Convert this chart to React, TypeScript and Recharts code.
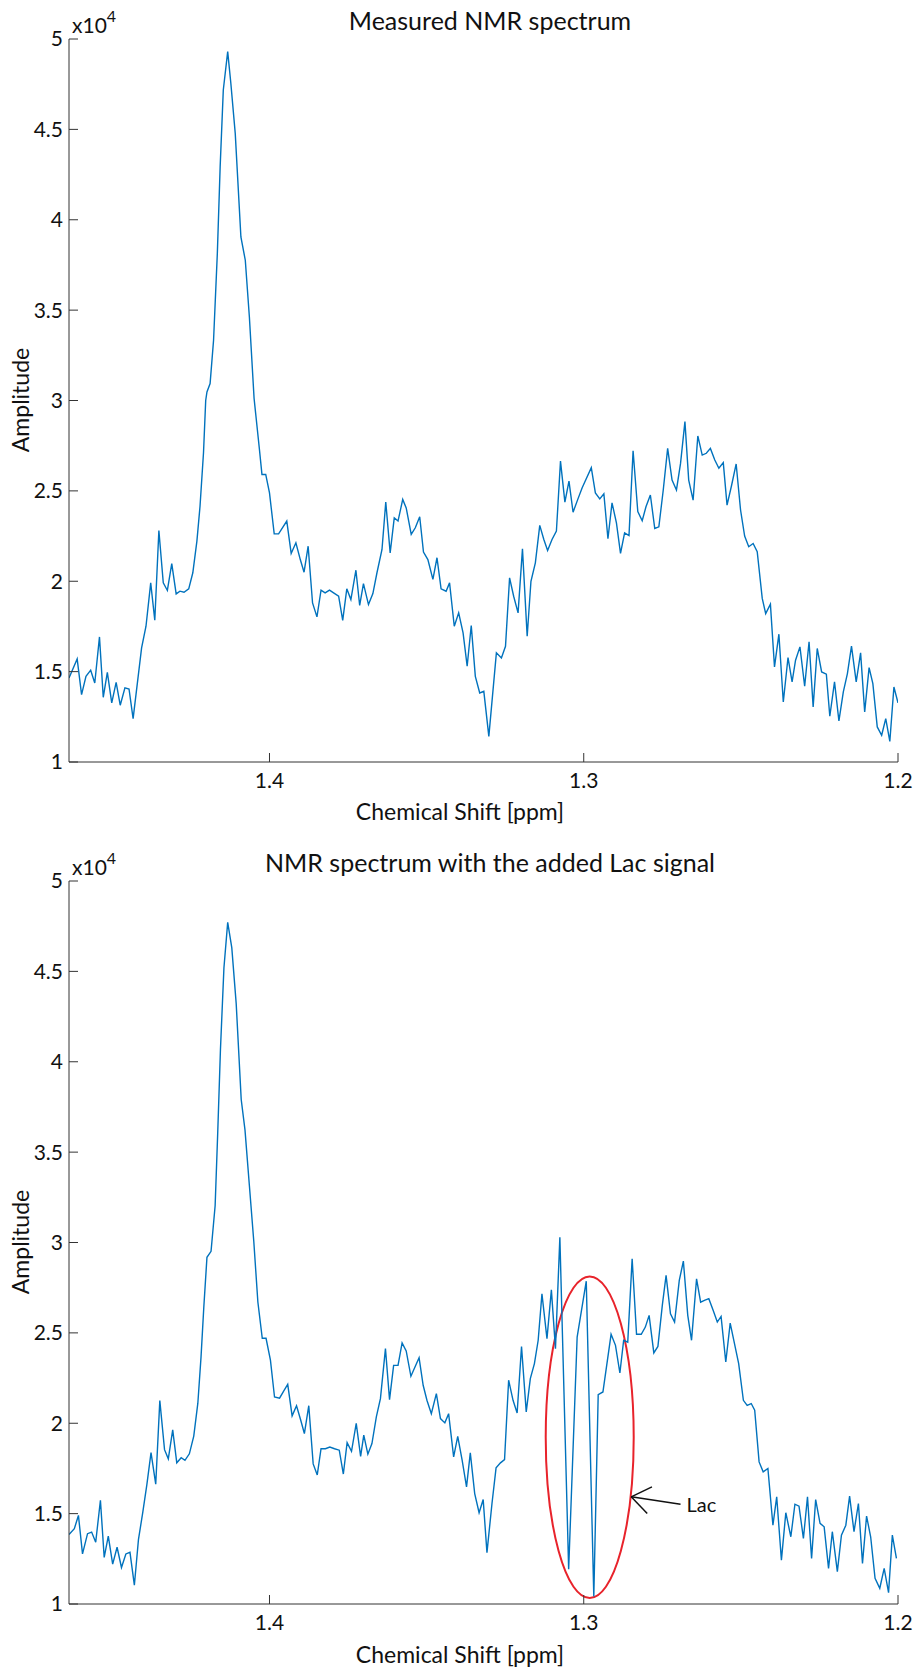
import React from 'react';
import {
    LineChart, Line, XAxis, YAxis, ReferenceArea, ReferenceLine, ReferenceDot,
} from 'recharts';

// chemical shift [ppm] and amplitude, measured spectrum
const topPpm = [
    1.4638, 1.4612, 1.4598, 1.4584, 1.4569, 1.4556, 1.4541, 1.4529, 1.4516, 1.4502,
    1.4488, 1.4475, 1.4460, 1.4447, 1.4434, 1.4407, 1.4393, 1.4378, 1.4365, 1.4352,
    1.4338, 1.4325, 1.4311, 1.4297, 1.4285, 1.4272, 1.4257, 1.4244, 1.4231, 1.4221,
    1.4210, 1.4203, 1.4199, 1.4189, 1.4178, 1.4166, 1.4157, 1.4147, 1.4133, 1.4123,
    1.4109, 1.4091, 1.4077, 1.4064, 1.4049, 1.4032, 1.4024, 1.4012, 1.4000, 1.3985,
    1.3971, 1.3945, 1.3931, 1.3916, 1.3902, 1.3890, 1.3877, 1.3863, 1.3849, 1.3836,
    1.3823, 1.3809, 1.3796, 1.3780, 1.3767, 1.3754, 1.3741, 1.3725, 1.3713, 1.3701,
    1.3685, 1.3671, 1.3658, 1.3642, 1.3630, 1.3616, 1.3603, 1.3591, 1.3576, 1.3565,
    1.3549, 1.3536, 1.3522, 1.3510, 1.3496, 1.3480, 1.3467, 1.3454, 1.3438, 1.3427,
    1.3412, 1.3398, 1.3384, 1.3371, 1.3358, 1.3345, 1.3331, 1.3318, 1.3302, 1.3278,
    1.3262, 1.3249, 1.3236, 1.3223, 1.3209, 1.3195, 1.3180, 1.3168, 1.3154, 1.3140,
    1.3127, 1.3115, 1.3101, 1.3087, 1.3074, 1.3060, 1.3047, 1.3034, 1.3019, 1.3005,
    1.2976, 1.2963, 1.2949, 1.2936, 1.2923, 1.2910, 1.2896, 1.2883, 1.2870, 1.2856,
    1.2843, 1.2828, 1.2814, 1.2802, 1.2788, 1.2774, 1.2761, 1.2747, 1.2733, 1.2719,
    1.2705, 1.2692, 1.2678, 1.2666, 1.2652, 1.2637, 1.2623, 1.2610, 1.2597, 1.2583,
    1.2570, 1.2556, 1.2544, 1.2530, 1.2515, 1.2501, 1.2488, 1.2475, 1.2461, 1.2448,
    1.2432, 1.2421, 1.2406, 1.2393, 1.2379, 1.2365, 1.2350, 1.2337, 1.2326, 1.2312,
    1.2297, 1.2283, 1.2270, 1.2257, 1.2243, 1.2228, 1.2217, 1.2202, 1.2188, 1.2174,
    1.2161, 1.2148, 1.2133, 1.2119, 1.2106, 1.2092, 1.2080, 1.2066, 1.2052, 1.2039,
    1.2026, 1.2013, 1.2000,
];
const topAmp = [
    14650, 15700, 13730, 14740, 15080, 14370, 16920, 13580, 14960, 13270,
    14410, 13140, 14100, 14040, 12400, 16310, 17510, 19910, 17840, 22810,
    19910, 19490, 20980, 19300, 19450, 19390, 19580, 20470, 22220, 24160,
    27110, 30000, 30470, 30940, 33330, 38130, 42930, 47180, 49300, 47550,
    44780, 39050, 37760, 34620, 30110, 27290, 25910, 25910, 24890, 22620,
    22620, 23330, 21540, 22130, 21200, 20500, 21940, 18800, 18030, 19510,
    19360, 19510, 19360, 19170, 17840, 19580, 18990, 20610, 18660, 19870,
    18710, 19320, 20470, 21760, 24380, 21570, 23510, 23330, 24530, 24060,
    22590, 22960, 23570, 21610, 21200, 20100, 21300, 19580, 19450, 19910,
    17510, 18250, 17140, 15300, 17550, 14740, 13820, 13910, 11420, 16040,
    15760, 16400, 20190, 19170, 18250, 21790, 16960, 20000, 21020, 23090,
    22310, 21700, 22310, 22770, 26650, 24380, 25540, 23820, 24530, 25170,
    26280, 24890, 24560, 24840, 22350, 24340, 23230, 21540, 22680, 22530,
    27220, 23850, 23350, 24120, 24770, 22920, 23010, 25050, 27350, 25600,
    25050, 26520, 28830, 25600, 24490, 28040, 26980, 27080, 27350, 26710,
    26250, 26560, 24210, 25270, 26490, 23940, 22500, 21910, 22090, 21630,
    19050, 18210, 18730, 15260, 17070, 13320, 15780, 14430, 15630, 16370,
    14190, 16650, 13050, 16280, 14980, 14860, 12530, 14430, 12270, 13880,
    14890, 16410, 14430, 16040, 12770, 15220, 14340, 11940, 11480, 12400,
    11140, 14150, 13270,
];

// spectrum with the added Lac signal
const lacPpm = [
    1.4638, 1.4621, 1.4608, 1.4595, 1.4579, 1.4566, 1.4553, 1.4538, 1.4526, 1.4513,
    1.4499, 1.4485, 1.4471, 1.4457, 1.4444, 1.4430, 1.4417, 1.4403, 1.4390, 1.4377,
    1.4362, 1.4349, 1.4334, 1.4322, 1.4308, 1.4295, 1.4281, 1.4269, 1.4255, 1.4241,
    1.4228, 1.4218, 1.4209, 1.4199, 1.4186, 1.4173, 1.4165, 1.4156, 1.4145, 1.4133,
    1.4120, 1.4106, 1.4090, 1.4078, 1.4064, 1.4050, 1.4037, 1.4023, 1.4011, 1.3997,
    1.3984, 1.3968, 1.3954, 1.3942, 1.3928, 1.3914, 1.3901, 1.3889, 1.3875, 1.3861,
    1.3848, 1.3836, 1.3822, 1.3808, 1.3793, 1.3778, 1.3765, 1.3753, 1.3739, 1.3724,
    1.3710, 1.3700, 1.3687, 1.3674, 1.3660, 1.3647, 1.3631, 1.3618, 1.3605, 1.3591,
    1.3578, 1.3565, 1.3550, 1.3524, 1.3511, 1.3499, 1.3485, 1.3469, 1.3456, 1.3442,
    1.3430, 1.3414, 1.3401, 1.3387, 1.3373, 1.3361, 1.3347, 1.3333, 1.3320, 1.3308,
    1.3292, 1.3279, 1.3265, 1.3252, 1.3239, 1.3225, 1.3212, 1.3198, 1.3183, 1.3170,
    1.3157, 1.3145, 1.3133, 1.3117, 1.3103, 1.3090, 1.3076, 1.3048, 1.3021, 1.2992,
    1.2968, 1.2954, 1.2939, 1.2913, 1.2899, 1.2885, 1.2873, 1.2860, 1.2846, 1.2832,
    1.2817, 1.2804, 1.2792, 1.2777, 1.2764, 1.2750, 1.2738, 1.2724, 1.2711, 1.2696,
    1.2683, 1.2669, 1.2657, 1.2641, 1.2628, 1.2616, 1.2602, 1.2588, 1.2575, 1.2563,
    1.2548, 1.2534, 1.2507, 1.2492, 1.2480, 1.2467, 1.2456, 1.2442, 1.2429, 1.2414,
    1.2398, 1.2386, 1.2371, 1.2357, 1.2341, 1.2328, 1.2315, 1.2301, 1.2288, 1.2275,
    1.2262, 1.2248, 1.2235, 1.2221, 1.2209, 1.2193, 1.2180, 1.2166, 1.2154, 1.2140,
    1.2126, 1.2113, 1.2100, 1.2087, 1.2073, 1.2058, 1.2044, 1.2030, 1.2018, 1.2005,
];
const lacAmp = [
    13840, 14170, 14900, 12770, 13890, 13980, 13420, 15740, 12580, 13750,
    12210, 13140, 12020, 12770, 12860, 11040, 13560, 15100, 16630, 18370,
    16630, 21250, 18540, 18030, 19630, 17810, 18090, 17950, 18310, 19290,
    21110, 23630, 26430, 29180, 29510, 32030, 35950, 40710, 45190, 47710,
    46310, 43230, 37910, 36230, 33150, 30070, 26710, 24700, 24700, 23490,
    21450, 21390, 21810, 22150, 20410, 20970, 20190, 19430, 20970, 17750,
    17140, 18590, 18590, 18680, 18590, 18510, 17190, 18930, 18450, 19990,
    18170, 19340, 18290, 18880, 20350, 21360, 24130, 21310, 23200, 23200,
    24440, 24000, 22600, 23630, 22100, 21270, 20530, 21640, 20260, 20020,
    20530, 18140, 19280, 17960, 16480, 18360, 16110, 15050, 15780, 12840,
    15560, 17530, 17810, 17990, 22380, 21270, 20570, 24250, 20630, 22470,
    23300, 24590, 27160, 24680, 27380, 24130, 30290, 11920, 24770, 27860,
    10410, 21580, 21730, 24920, 24310, 22780, 24590, 24490, 29100, 24920,
    24920, 25320, 25970, 23890, 24250, 26520, 28180, 26060, 25600, 27900,
    28970, 25970, 24590, 27990, 26700, 26800, 26890, 26240, 25600, 25910,
    23390, 25540, 23300, 21270, 20990, 21090, 20720, 17860, 17310, 17500,
    14360, 15930, 12430, 15050, 13720, 15520, 15410, 13630, 15930, 12520,
    15780, 14460, 14270, 11970, 14000, 11790, 13810, 14360, 15970, 14000,
    15560, 12250, 14860, 13720, 11420, 10870, 11970, 10630, 13810, 12520,
];

const ppmTicks = [1.2, 1.3, 1.4];
const ampTicks = [10000, 15000, 20000, 25000, 30000, 35000, 40000, 45000, 50000];

const topData = topPpm.map((ppm, i) => ({ ppm, amp: topAmp[i] }));
const lacData = lacPpm.map((ppm, i) => ({ ppm, amp: lacAmp[i] }));

const AXIS = '#333333';
const BLUE = '#0072BD';
const W = 913;

const Spectrum = ({ data, height, top, xHeight, children }: any) => (
    <LineChart
        width={W}
        height={height}
        data={data}
        margin={{ top, right: 15, bottom: 0, left: 0 }}
    >
        <XAxis
            dataKey="ppm"
            type="number"
            domain={[1.2, 1.4638]}
            allowDataOverflow
            reversed
            ticks={ppmTicks}
            interval={0}
            tickFormatter={(v: number) => v.toFixed(1)}
            height={xHeight}
            tickSize={-9}
            tickMargin={20}
            axisLine={{ stroke: AXIS }}
            tickLine={{ stroke: AXIS }}
            tick={{ fill: '#111', fontSize: 21 }}
        />
        <XAxis
            xAxisId="top"
            orientation="top"
            dataKey="ppm"
            type="number"
            domain={[1.2, 1.4638]}
            allowDataOverflow
            reversed
            ticks={ppmTicks}
            interval={0}
            height={0}
            tickSize={-9}
            tick={false}
            axisLine={{ stroke: AXIS }}
            tickLine={{ stroke: AXIS }}
        />
        <YAxis
            type="number"
            domain={[10000, 50000]}
            allowDataOverflow
            ticks={ampTicks}
            interval={0}
            tickFormatter={(v: number) => String(v / 10000)}
            width={69}
            tickSize={-9}
            tickMargin={15}
            axisLine={{ stroke: AXIS }}
            tickLine={{ stroke: AXIS }}
            tick={{ fill: '#111', fontSize: 21 }}
        />
        <YAxis
            yAxisId="right"
            orientation="right"
            type="number"
            domain={[10000, 50000]}
            allowDataOverflow
            ticks={ampTicks}
            interval={0}
            width={0}
            tickSize={-9}
            tick={false}
            axisLine={{ stroke: AXIS }}
            tickLine={{ stroke: AXIS }}
        />
        <Line
            type="linear"
            dataKey="amp"
            stroke={BLUE}
            strokeWidth={1.4}
            dot={false}
            isAnimationActive={false}
        />
        {children}
    </LineChart>
);

const ellipseShape = (p: any) => (
    <ellipse
        cx={p.x + p.width / 2}
        cy={p.y + p.height / 2}
        rx={Math.abs(p.width) / 2}
        ry={Math.abs(p.height) / 2}
        fill="none"
        stroke="#e8232b"
        strokeWidth={2}
    />
);

const lacLabel = (p: any) => (
    <text x={p.cx} y={p.cy} fontSize={20} fill="#111">Lac</text>
);

export default function App() {
    return (
        <div style={{ position: 'absolute', left: 0, top: 0, width: W, height: 1671, background: '#fff', fontFamily: 'Lato, sans-serif' }}>
            <div style={{ position: 'absolute', left: 0, top: 0 }}>
                <Spectrum data={topData} height={840} top={39} xHeight={78} />
            </div>
            <div style={{ position: 'absolute', left: 0, top: 840 }}>
                <Spectrum data={lacData} height={831} top={41} xHeight={67}>
                    <ReferenceArea
                        x1={1.3121}
                        x2={1.2841}
                        y1={10330}
                        y2={28120}
                        shape={ellipseShape}
                    />
                    <ReferenceLine segment={[{ x: 1.2692, y: 15520 }, { x: 1.2849, y: 15930 }]} stroke="#111" strokeWidth={1.5} />
                    <ReferenceLine segment={[{ x: 1.2849, y: 15930 }, { x: 1.2783, y: 16480 }]} stroke="#111" strokeWidth={1.5} />
                    <ReferenceLine segment={[{ x: 1.2849, y: 15930 }, { x: 1.2798, y: 15010 }]} stroke="#111" strokeWidth={1.5} />
                    <ReferenceDot x={1.2673} y={15080} shape={lacLabel} />
                </Spectrum>
            </div>
            <svg width={W} height={1671} style={{ position: 'absolute', left: 0, top: 0, pointerEvents: 'none' }}>
                <g fill="#111" fontFamily="Lato, sans-serif">
                    <text x={490} y={30} fontSize={25} textAnchor="middle">Measured NMR spectrum</text>
                    <text x={72} y={33} fontSize={21}>x10<tspan dy={-11} fontSize={16}>4</tspan></text>
                    <text transform="translate(29,400) rotate(-90)" fontSize={23} textAnchor="middle">Amplitude</text>
                    <text x={460} y={820} fontSize={23} textAnchor="middle">Chemical Shift [ppm]</text>

                    <text x={490} y={872} fontSize={25} textAnchor="middle">NMR spectrum with the added Lac signal</text>
                    <text x={72} y={875} fontSize={21}>x10<tspan dy={-11} fontSize={16}>4</tspan></text>
                    <text transform="translate(29,1242) rotate(-90)" fontSize={23} textAnchor="middle">Amplitude</text>
                    <text x={460} y={1663} fontSize={23} textAnchor="middle">Chemical Shift [ppm]</text>
                </g>
            </svg>
        </div>
    );
}
